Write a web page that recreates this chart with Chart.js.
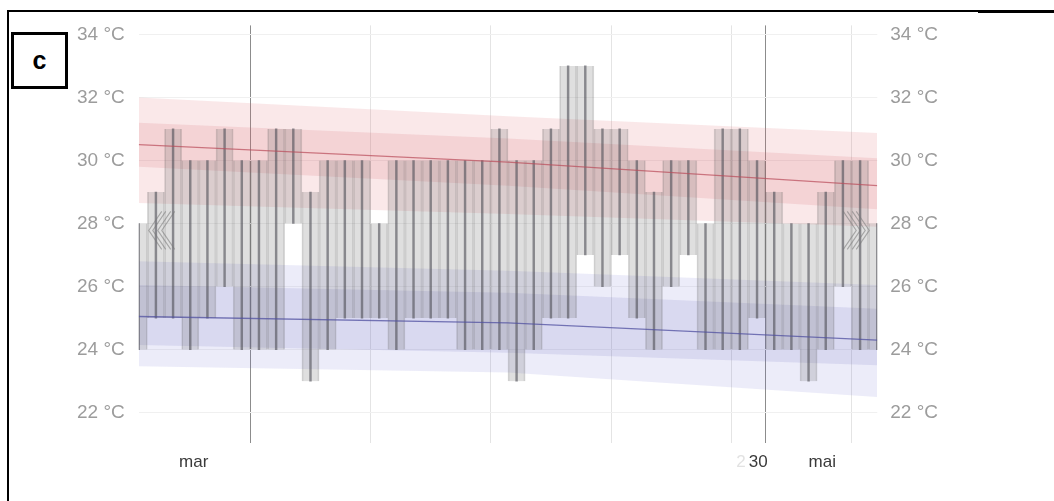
<!DOCTYPE html>
<html>
<head>
<meta charset="utf-8">
<title>Temperature chart</title>
<script src="https://cdn.jsdelivr.net/npm/chart.js@4.4.1/dist/chart.umd.min.js"></script>
<style>
  html, body { margin: 0; padding: 0; background: #fff; }
  body { width: 1054px; height: 501px; position: relative; overflow: hidden; font-family: Arial, "Liberation Sans", sans-serif; }
  #frame { position: absolute; left: 7px; top: 10px; width: 1100px; height: 600px; border-left: 2px solid #000; border-top: 2px solid #000; }
  #frameCap { position: absolute; left: 978px; top: 10px; width: 80px; height: 3px; background: #000; }
  #panel { position: absolute; left: 11px; top: 32px; width: 51px; height: 51px; border: 3px solid #000; background: #fff;
           font-weight: bold; font-size: 25px; text-align: center; line-height: 50px; z-index: 2; }
  #wrap { position: absolute; left: 0; top: 0; width: 1054px; height: 501px; }
</style>
</head>
<body>
<div id="frame"></div>
<div id="frameCap"></div>
<div id="panel">c</div>
<div id="wrap"><canvas id="tempChart" width="1054" height="501"></canvas></div>
<script>
// days counted from 1 April (0 = 1 April), one box per day
const dayOffsets = [-7, -6, -5, -4, -3, -2, -1, 0, 1, 2, 3, 4, 5, 6, 7, 8, 9, 10, 11, 12, 13, 14,
                    15, 16, 17, 18, 19, 20, 21, 22, 23, 24, 25, 26, 27, 28, 29, 30, 31, 32, 33, 34, 35, 36];
const dayHigh = [28, 29, 31, 30, 30, 31, 30, 30, 31, 31, 29, 30, 30, 30, 28, 30, 30, 30, 30, 30, 30, 31,
                 30, 30, 31, 33, 33, 31, 31, 30, 29, 30, 30, 28, 31, 31, 30, 29, 28, 28, 29, 30, 30, 28];
const dayLow = [24, 25, 25, 24, 25, 26, 24, 24, 24, 28, 23, 24, 25, 25, 25, 24, 25, 25, 25, 24, 24, 24,
                23, 24, 25, 25, 27, 26, 27, 25, 24, 26, 27, 24, 24, 24, 25, 24, 24, 23, 24, 26, 24, 24];

// climate normals (start, middle, end of the window)
const bandDays = [-6.5, 15, 36.5];
const redOuterTop = [32.0, 31.4, 30.87];
const redInnerTop = [31.2, 30.7, 30.07];
const redMean = [30.5, 29.95, 29.2];
const redInnerBottom = [29.8, 29.2, 28.45];
const redOuterBottom = [28.65, 28.3, 27.9];
const blueOuterTop = [26.8, 26.5, 26.05];
const blueInnerTop = [26.05, 25.8, 25.3];
const blueMean = [25.05, 24.85, 24.3];
const blueInnerBottom = [24.15, 23.9, 23.5];
const blueOuterBottom = [23.47, 23.27, 22.5];

// axes
const yTicks = [22, 24, 26, 28, 30, 32, 34];
const monthLineDays = [0, 30];
const weekLineDays = [7, 14, 21, 28, 35];
const xLabelDays = [-3.3, 28.57, 29.57, 33.3];
const xLabelTexts = ['mar', '2', '30', 'mai'];

Chart.defaults.font.family = 'Arial, "Liberation Sans", sans-serif';

const toPoints = vals => bandDays.map((d, i) => ({ x: d, y: vals[i] }));

function bandPair(top, bottom, color) {
  return [
    { type: 'line', data: toPoints(top), borderWidth: 0, pointRadius: 0, fill: false, order: 3 },
    { type: 'line', data: toPoints(bottom), borderWidth: 0, pointRadius: 0, fill: '-1', backgroundColor: color, order: 3 }
  ];
}

function meanLine(vals, color) {
  return { type: 'line', data: toPoints(vals), borderColor: color, borderWidth: 1.3, pointRadius: 0, fill: false, order: 0 };
}

const boxes = dayOffsets.map((d, i) => ({ x: d + 0.5, y: [dayLow[i], dayHigh[i]] }));

const allXTicks = [...monthLineDays, ...weekLineDays, ...xLabelDays].sort((a, b) => a - b);

// little double chevrons at both ends
const chevronPlugin = {
  id: 'chevrons',
  afterDraw(chart) {
    const { ctx, chartArea } = chart;
    const cy = chartArea.top + 205;
    ctx.save();
    ctx.strokeStyle = 'rgba(120,120,120,0.55)';
    ctx.lineWidth = 1.1;
    const draw = (tipX, dir) => {
      [0, 9].forEach(off => {
        [0, 4].forEach(w => {
          const tx = tipX + dir * (off + w);
          ctx.beginPath();
          ctx.moveTo(tx + dir * 13, cy - 19);
          ctx.lineTo(tx, cy);
          ctx.lineTo(tx + dir * 13, cy + 19);
          ctx.stroke();
        });
      });
    };
    draw(chartArea.left + 10, 1);
    draw(chartArea.right - 8, -1);
    ctx.restore();
  }
};

new Chart(document.getElementById('tempChart'), {
  type: 'bar',
  data: {
    datasets: [
      ...bandPair(redOuterTop, redOuterBottom, 'rgba(220,100,110,0.15)'),
      ...bandPair(redInnerTop, redInnerBottom, 'rgba(210,90,100,0.15)'),
      ...bandPair(blueOuterTop, blueOuterBottom, 'rgba(110,110,210,0.13)'),
      ...bandPair(blueInnerTop, blueInnerBottom, 'rgba(100,100,185,0.14)'),
      meanLine(redMean, 'rgba(185,75,90,0.7)'),
      meanLine(blueMean, 'rgba(80,80,160,0.75)'),
      {
        label: 'range',
        data: boxes,
        backgroundColor: 'rgba(110,110,110,0.22)',
        borderColor: 'rgba(80,80,80,0.22)',
        borderWidth: { left: 1, right: 1, top: 0, bottom: 0 },
        borderSkipped: false,
        barThickness: 17.16,
        grouped: false,
        order: 1
      },
      {
        label: 'wick',
        data: boxes,
        backgroundColor: 'rgba(70,70,80,0.6)',
        barThickness: 1.8,
        grouped: false,
        order: 1
      }
    ]
  },
  options: {
    responsive: false,
    animation: false,
    layout: { padding: { left: 63, right: 103, top: 16, bottom: 18 } },
    plugins: { legend: { display: false }, tooltip: { enabled: false } },
    scales: {
      x: {
        type: 'linear',
        min: -6.5,
        max: 36.5,
        offset: false,
        afterBuildTicks: s => { s.ticks = allXTicks.map(v => ({ value: v })); },
        ticks: {
          autoSkip: false,
          maxRotation: 0,
          padding: 10,
          font: { size: 17 },
          callback: v => {
            const k = xLabelDays.indexOf(v);
            return k >= 0 ? xLabelTexts[k] : '';
          },
          color: c => (c.tick && xLabelTexts[xLabelDays.indexOf(c.tick.value)] === '2') ? '#e2e2e2' : '#3a3a3a'
        },
        grid: {
          offset: false,
          drawTicks: false,
          lineWidth: 1,
          color: c => {
            const v = c.tick ? c.tick.value : null;
            if (monthLineDays.includes(v)) return '#8c8c8c';
            if (weekLineDays.includes(v)) return '#e4e4e4';
            return 'rgba(0,0,0,0)';
          }
        },
        border: { display: false }
      },
      y: {
        position: 'left',
        min: 21.05,
        max: 34.285,
        beginAtZero: false,
        afterBuildTicks: s => { s.ticks = yTicks.map(v => ({ value: v })); },
        ticks: { padding: 14, color: '#9c9c9c', font: { size: 19 }, callback: v => v + ' °C' },
        grid: { color: '#f0f0f0', drawTicks: false },
        border: { display: false }
      },
      y2: {
        position: 'right',
        min: 21.05,
        max: 34.285,
        beginAtZero: false,
        afterBuildTicks: s => { s.ticks = yTicks.map(v => ({ value: v })); },
        ticks: { padding: 13, color: '#9c9c9c', font: { size: 19 }, callback: v => v + ' °C' },
        grid: { display: false, drawTicks: false },
        border: { display: false }
      }
    }
  },
  plugins: [chevronPlugin]
});
</script>
</body>
</html>
